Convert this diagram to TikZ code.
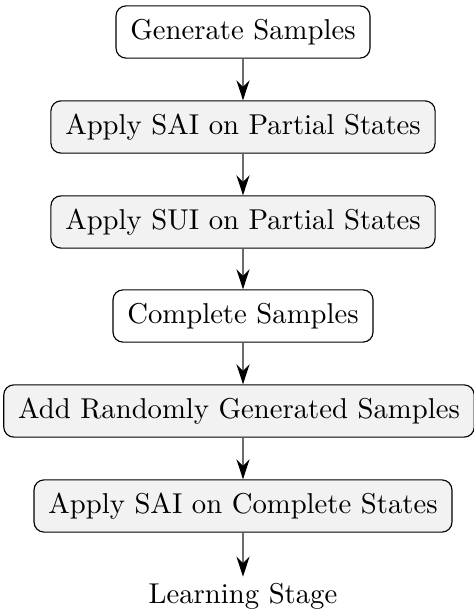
\documentclass[tikz,border=0pt]{standalone}
\usetikzlibrary{arrows.meta}
\begin{document}
\begin{tikzpicture}[x=0.3484pt,y=-0.3484pt,
  stepbox/.style={draw=black, line width=0.4pt, rounded corners=3.5pt, inner xsep=5pt, minimum height=18.2pt, font=\normalsize},
  plainbox/.style={stepbox, fill=white},
  shadebox/.style={stepbox, fill=gray!10},
  flow/.style={draw=gray!85!black, line width=0.5pt, -{Stealth[length=7pt,width=4.6pt,inset=2.3pt,color=black]}}]
\useasboundingbox (0,0) rectangle (473,611);
\node[plainbox] (gen)   at (243,32)  {Generate Samples};
\node[shadebox] (sai1)  at (243,127) {Apply SAI on Partial States};
\node[shadebox] (sui)   at (243,222) {Apply SUI on Partial States};
\node[plainbox] (comp)  at (243,316) {Complete Samples};
\node[shadebox] (add)   at (239,411) {Add Randomly Generated Samples};
\node[shadebox] (sai2)  at (243,506) {Apply SAI on Complete States};
\node[inner sep=2pt] (learn) at (243,596) {Learning Stage};
\draw[flow] (gen.south -| sai1.north) -- (sai1.north);
\draw[flow] (sai1) -- (sui);
\draw[flow] (sui) -- (comp);
\draw[flow] (comp) -- (comp.south |- add.north);
\draw[flow] (add.south -| sai2.south) -- (sai2.north);
\draw[flow] (sai2) -- (learn);
\end{tikzpicture}
\end{document}
